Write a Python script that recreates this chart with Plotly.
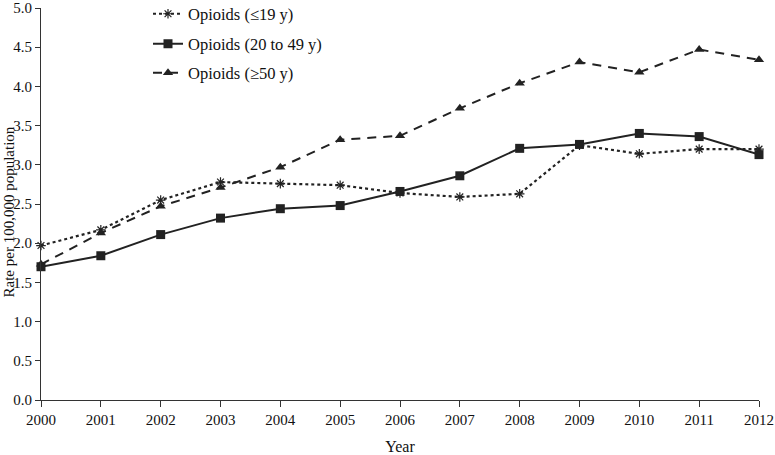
import plotly.graph_objects as go

years = list(range(2000, 2013))
young = [1.97, 2.17, 2.55, 2.78, 2.76, 2.74, 2.64, 2.59, 2.63, 3.25, 3.14, 3.20, 3.20]
middle = [1.70, 1.84, 2.11, 2.32, 2.44, 2.48, 2.66, 2.86, 3.21, 3.26, 3.40, 3.36, 3.13]
older = [1.73, 2.13, 2.47, 2.71, 2.97, 3.32, 3.37, 3.72, 4.04, 4.31, 4.18, 4.47, 4.34]
names = ["Opioids (\u226419 y)", "Opioids (20 to 49 y)", "Opioids (\u226550 y)"]
y_ticks = [0, 0.5, 1.0, 1.5, 2.0, 2.5, 3.0, 3.5, 4.0, 4.5, 5.0]
y_title = "Rate per 100,000 population"

col = "#222222"
FONT = "Liberation Serif, Times New Roman, serif"

fig = go.Figure()
fig.add_trace(go.Scatter(x=years, y=young, name=names[0], mode="lines+markers",
                         line=dict(color=col, width=2.2, dash="dot"),
                         marker=dict(symbol="asterisk-open", size=8, line=dict(color=col, width=1.2)),
                         legend="legend"))
fig.add_trace(go.Scatter(x=years, y=middle, name=names[1], mode="lines+markers",
                         line=dict(color=col, width=2),
                         marker=dict(symbol="square", size=9, color=col),
                         legend="legend2"))
fig.add_trace(go.Scatter(x=years, y=older, name=names[2], mode="lines+markers",
                         line=dict(color=col, width=2, dash="9px,7px"),
                         marker=dict(symbol="triangle-up", size=9, color=col),
                         legend="legend3"))

L, R, T, B = 41, 16, 8, 55
W, H = 775, 455
pw, ph = W - L - R, H - T - B

def px_x(p):
    return (p - L) / pw

def px_y(p):
    return 1 - (p - T) / ph

leg_common = dict(xanchor="left", yanchor="middle", visible=True,
                  bgcolor="rgba(0,0,0,0)", font=dict(family=FONT, size=16.5, color="#111"),
                  itemwidth=30)
fig.update_layout(
    width=W, height=H, showlegend=True,
    margin=dict(l=L, r=R, t=T, b=B, autoexpand=False),
    paper_bgcolor="white", plot_bgcolor="white",
    font=dict(family=FONT, size=15, color="#111"),
    legend=dict(x=px_x(148), y=px_y(14), **leg_common),
    legend2=dict(x=px_x(148), y=px_y(44), **leg_common),
    legend3=dict(x=px_x(148), y=px_y(73), **leg_common),
    xaxis=dict(range=[2000, 2012], tickvals=years, ticktext=[str(y) for y in years],
               showline=True, linecolor="#333", linewidth=1.2, ticks="outside",
               ticklen=6, tickcolor="#333", showgrid=False, zeroline=False, tickangle=0,
               title=dict(text="Year", font=dict(size=16), standoff=13)),
    yaxis=dict(range=[0, 5.0], tickvals=y_ticks, ticktext=[f"{v:.1f}" for v in y_ticks],
               showline=True, linecolor="#333", linewidth=1.2, ticks="outside",
               ticklen=5, tickcolor="#333", showgrid=False, zeroline=False),
    annotations=[dict(text=y_title, xref="paper", yref="paper", x=px_x(8.5), y=px_y(212),
                      xanchor="center", yanchor="middle", textangle=-90, showarrow=False,
                      font=dict(family=FONT, size=15, color="#111"))],
)
fig.update_traces(cliponaxis=False)
fig.write_html("out.html", config={"displayModeBar": False},
               post_script="document.body.style.margin='0';document.body.style.overflow='hidden';")
